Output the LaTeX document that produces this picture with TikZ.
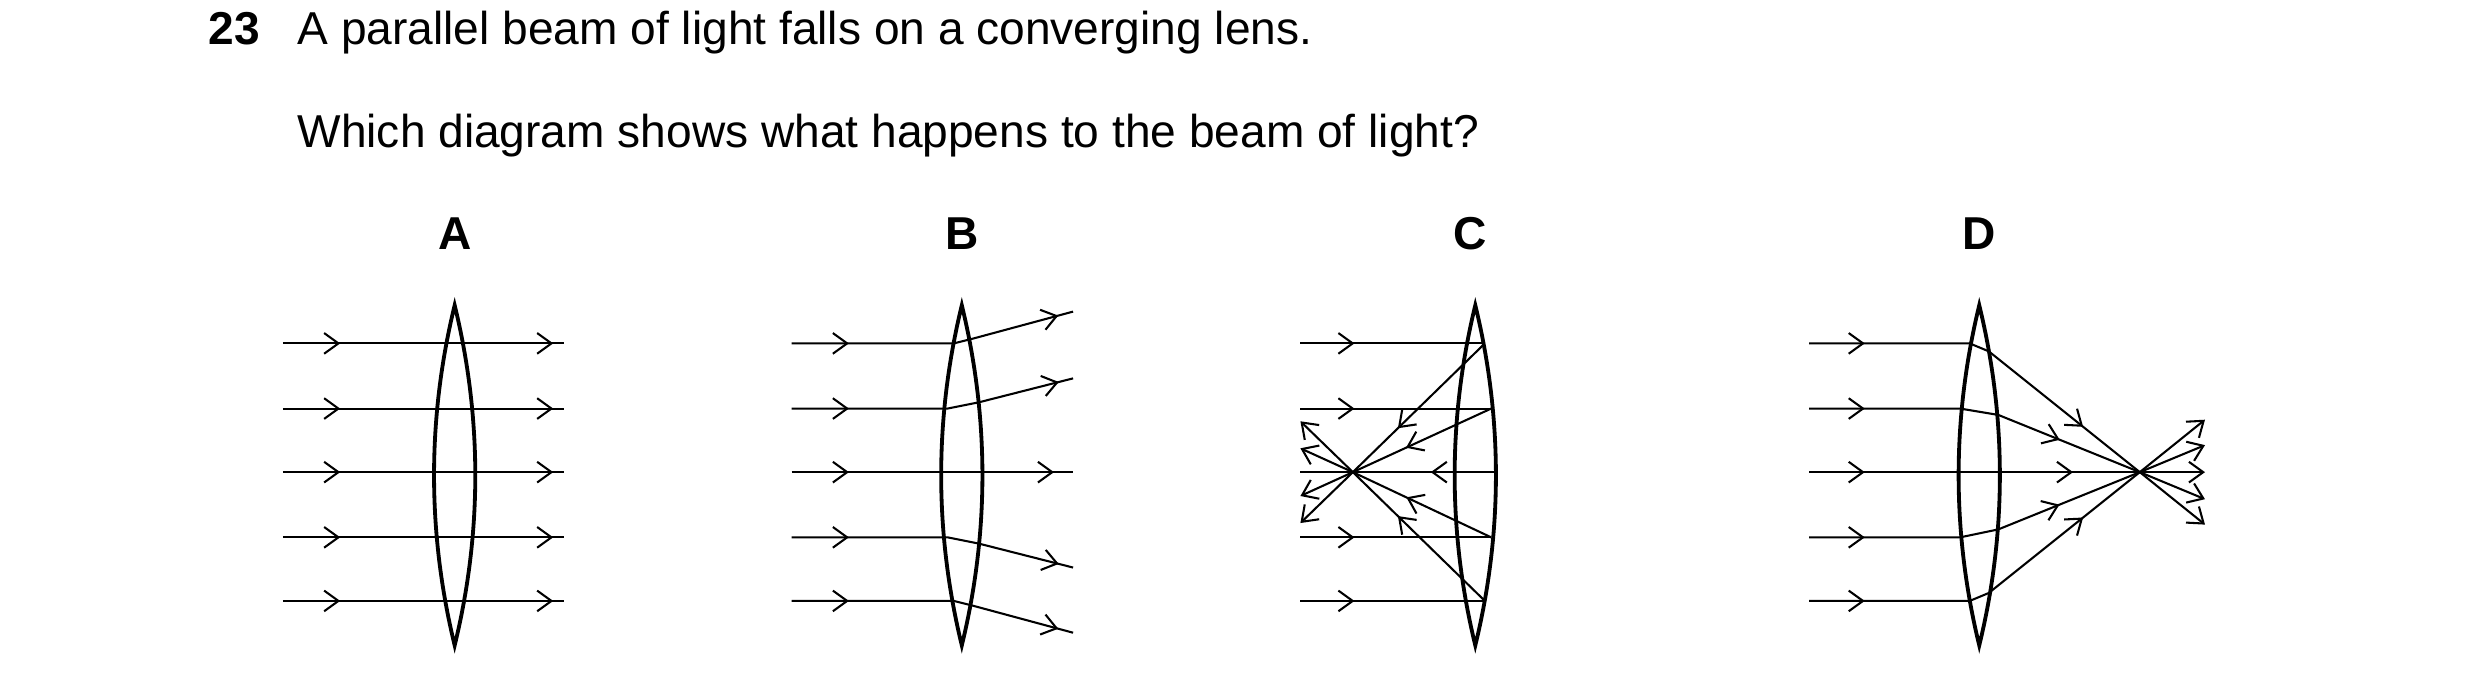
\documentclass[tikz,border=0pt]{standalone}
\usepackage{fontspec}
\setmainfont{Liberation Sans}
\usetikzlibrary{arrows.meta,decorations.markings}
\begin{document}
\begin{tikzpicture}[x=1pt,y=-1pt,
  ray/.style={line width=1.3pt,line join=round},
  lens/.style={line width=2.4pt,line join=miter},
  tip/.tip={Straight Barb[length=9pt,width=13pt,line width=1.3pt]},
  at/.style={postaction={decorate,decoration={markings,mark=at position #1 with {\arrow{tip}}}}},
  rat/.style={postaction={decorate,decoration={markings,mark=at position #1 with {\arrowreversed{tip}}}}},
  end/.style={-{tip}},
  txt/.style={font=\fontsize{29}{34}\selectfont,anchor=base west,inner sep=0},
  lab/.style={font=\fontsize{29}{34}\selectfont\bfseries,anchor=base,inner sep=0}]
\useasboundingbox (0,0) rectangle (1560,431);
\newcommand\lensat[1]{\draw[lens] (#1,192) .. controls (#1-17.3,263) and (#1-17.3,335) .. (#1,406) .. controls (#1+17.3,335) and (#1+17.3,263) .. (#1,192) -- cycle;}
\node[txt,font=\fontsize{29}{34}\selectfont\bfseries] (num) at (131,28) {23};
\node[txt] (q1) at (187,28) {A parallel beam of light falls on a converging lens.};
\node[txt] (q2) at (187,93) {Which diagram shows what happens to the beam of light?};
\node[lab] (A) at (286,157) {A};
\node[lab] (B) at (605,157) {B};
\node[lab] (C) at (925,157) {C};
\node[lab] (D) at (1245,157) {D};
% A
\foreach \y in {216,257,297,338,378}{\draw[ray,at=36pt,at=170pt] (178,\y) -- (355,\y);}
\lensat{286}
% B
\draw[ray,at=36pt,at=170pt] (498,216)--(600,216)--(612,213)--(675,196);
\draw[ray,at=36pt,at=170pt] (498,257)--(596,257)--(616,253)--(675,238);
\draw[ray,at=36pt,at=165pt] (498,297)--(675,297);
\draw[ray,at=36pt,at=170pt] (498,338)--(596,338)--(616,342)--(675,357);
\draw[ray,at=36pt,at=170pt] (498,378)--(600,378)--(612,381)--(675,398);
\lensat{605}
% C
\coordinate (F) at (851,297);
\draw[ray,at=34pt] (818,216)--(933,216);
\draw[ray,at=34pt] (818,257)--(938,257);
\draw[ray,rat=82pt] (818,297)--(942,297);
\draw[ray,at=34pt] (818,338)--(938,338);
\draw[ray,at=34pt] (818,378)--(933,378);
\draw[ray,at=75pt,end] (933,217)--(F)--(818,329);
\draw[ray,at=59pt,end] (938,257)--(F)--(818,312);
\draw[ray,at=59pt,end] (938,338)--(F)--(818,282);
\draw[ray,at=75pt,end] (933,377)--(F)--(818,265);
\lensat{928}
% D
\coordinate (G) at (1346,297);
\draw[ray,at=35pt,at=190pt,end] (1138,216)--(1239,216)--(1251,221)--(G)--(1387,330);
\draw[ray,at=35pt,at=161pt,end] (1138,257)--(1233,257)--(1257,261)--(G)--(1387,314);
\draw[ray,at=35pt,at=166pt,end] (1138,297)--(1387,297);
\draw[ray,at=35pt,at=161pt,end] (1138,338)--(1233,338)--(1257,333)--(G)--(1387,280);
\draw[ray,at=35pt,at=190pt,end] (1138,378)--(1239,378)--(1251,373)--(G)--(1387,264);
\lensat{1245}
\end{tikzpicture}
\end{document}
